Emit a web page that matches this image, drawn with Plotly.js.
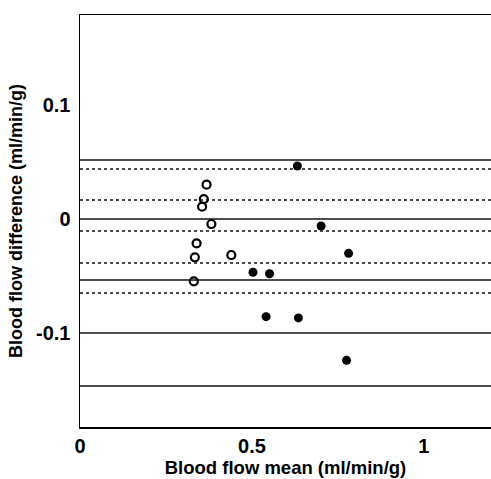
<!DOCTYPE html>
<html>
<head>
<meta charset="utf-8">
<script src="https://cdn.plot.ly/plotly-3.0.1.min.js"></script>
<style>html,body{margin:0;padding:0;background:#fff;}#chart{width:491px;height:479px;}</style>
</head>
<body>
<div id="chart"></div>
<script>
// Open circles
var openX = [0.368, 0.360, 0.355, 0.382, 0.339, 0.334, 0.440, 0.331];
var openY = [0.0301, 0.0175, 0.0108, -0.0044, -0.0213, -0.0336, -0.0316, -0.0547];
// Filled circles
var fillX = [0.632, 0.701, 0.781, 0.503, 0.551, 0.541, 0.635, 0.775];
var fillY = [0.0465, -0.0061, -0.0301, -0.0467, -0.0480, -0.0857, -0.0868, -0.1240];
// Horizontal reference lines
var solidLines = [0.0518, 0, -0.0535, -0.1, -0.1465];
var dottedLines = [0.0439, 0.0167, -0.0105, -0.0386, -0.0649];
var xTicks = [0, 0.5, 1];
var xTickText = ['0', '0.5', '1'];
var yTicks = [0.1, 0, -0.1];
var yTickText = ['0.1', '0', '-0.1'];

var shapes = [];
solidLines.forEach(function (v) {
  shapes.push({type: 'line', xref: 'paper', x0: 0, x1: 1, yref: 'y', y0: v, y1: v,
    line: {color: '#111', width: 1.5}});
});
dottedLines.forEach(function (v) {
  shapes.push({type: 'line', xref: 'paper', x0: 0, x1: 1, yref: 'y', y0: v, y1: v,
    line: {color: '#111', width: 1.5, dash: 'dot'}});
});

var traces = [
  {x: openX, y: openY, type: 'scatter', mode: 'markers',
   marker: {symbol: 'circle-open', size: 8, color: '#000', line: {width: 2.2, color: '#000'}}},
  {x: fillX, y: fillY, type: 'scatter', mode: 'markers',
   marker: {symbol: 'circle', size: 9, color: '#000'}}
];

var font = {family: 'Liberation Sans, Arial, sans-serif', color: '#000'};
var layout = {
  width: 491, height: 479,
  margin: {l: 80, r: 0, t: 15, b: 52},
  paper_bgcolor: '#fff', plot_bgcolor: '#fff',
  showlegend: false,
  font: font,
  shapes: shapes,
  xaxis: {
    range: [0, 1.195], showgrid: false, zeroline: false,
    showline: true, mirror: true, linecolor: '#000', linewidth: 1.5,
    ticks: '', tickvals: xTicks, ticktext: xTickText, ticklabelstandoff: 0,
    tickfont: {family: font.family, size: 20, color: '#000', weight: 'bold'},
    title: {text: 'Blood flow mean (ml/min/g)', standoff: 5,
      font: {family: font.family, size: 18.5, color: '#000', weight: 'bold'}}
  },
  yaxis: {
    range: [-0.1825, 0.179], showgrid: false, zeroline: false,
    showline: true, mirror: false, linecolor: '#000', linewidth: 1.5,
    ticks: '', tickvals: yTicks, ticktext: yTickText, ticklabelstandoff: 4,
    tickfont: {family: font.family, size: 20, color: '#000', weight: 'bold'},
    title: {text: 'Blood flow difference (ml/min/g)', standoff: 8,
      font: {family: font.family, size: 18, color: '#000', weight: 'bold'}}
  }
};

Plotly.newPlot('chart', traces, layout, {displayModeBar: false, staticPlot: true});
</script>
</body>
</html>
